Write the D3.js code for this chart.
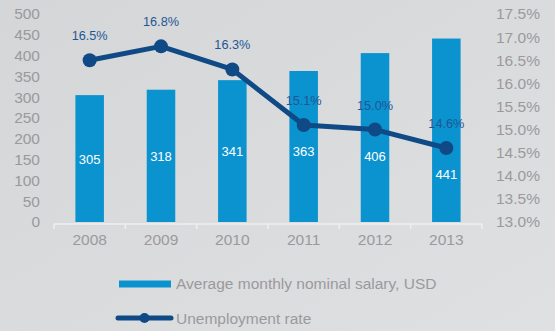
<!DOCTYPE html>
<html>
<head>
<meta charset="utf-8">
<script src="https://cdn.jsdelivr.net/npm/d3@7"></script>
<style>
  html, body { margin: 0; padding: 0; }
  body { width: 555px; height: 331px; overflow: hidden; }
  svg { display: block; font-family: "Liberation Sans", Arial, sans-serif; }
</style>
</head>
<body>
<svg id="chart" width="555" height="331"></svg>
<script>
// Salary and unemployment, 2008–2013
const years = ["2008", "2009", "2010", "2011", "2012", "2013"];
const salary = [305, 318, 341, 363, 406, 441];
const unemployment = [16.5, 16.8, 16.3, 15.1, 15.0, 14.6];
const salaryTicks = [0, 50, 100, 150, 200, 250, 300, 350, 400, 450, 500];
const rateTicks = [13.0, 13.5, 14.0, 14.5, 15.0, 15.5, 16.0, 16.5, 17.0, 17.5];
const legendLabels = ["Average monthly nominal salary, USD", "Unemployment rate"];

const barColor = "#0b93d0";
const lineColor = "#0f4a86";
const textGray = "#9a9a9c";

const svg = d3.select("#chart");

// soft gray backdrop
const defs = svg.append("defs");
const grad = defs.append("linearGradient").attr("id", "bg")
  .attr("x1", "0").attr("y1", "0").attr("x2", "1").attr("y2", "1");
grad.append("stop").attr("offset", "0%").attr("stop-color", "#d5d6d8");
grad.append("stop").attr("offset", "100%").attr("stop-color", "#dfe0e2");
svg.append("rect").attr("width", 555).attr("height", 331).attr("fill", "url(#bg)");

const x = d3.scaleBand().domain(years).range([54, 482]).paddingInner(0.6).paddingOuter(0.3);
const yL = d3.scaleLinear().domain([0, 500]).range([222, 14]);
const yR = d3.scaleLinear().domain([13, 17.5]).range([222, 14]);

// left axis
const leftAxis = svg.append("g").attr("transform", "translate(40,0)")
  .call(d3.axisLeft(yL).tickValues(salaryTicks).tickSize(0).tickPadding(0));
leftAxis.select(".domain").remove();
leftAxis.selectAll("text").attr("fill", textGray).style("font-size", "15.5px");

// right axis
const rightAxis = svg.append("g").attr("transform", "translate(496,0)")
  .call(d3.axisRight(yR).tickValues(rateTicks).tickSize(0).tickPadding(0)
    .tickFormat(d => d.toFixed(1) + "%"));
rightAxis.select(".domain").remove();
rightAxis.selectAll("text").attr("fill", textGray).style("font-size", "15.5px");

// category axis with separators between years
const step = x.step();
const x0 = x.range()[0];
const base = svg.append("g");
base.append("line").attr("x1", x0).attr("x2", x.range()[1]).attr("y1", 224).attr("y2", 224)
  .attr("stroke", "#eeeff0").attr("stroke-width", 1.5);
base.selectAll("line.tick").data(d3.range(years.length + 1)).join("line")
  .attr("class", "tick")
  .attr("x1", i => x0 + i * (x.range()[1] - x0) / years.length)
  .attr("x2", i => x0 + i * (x.range()[1] - x0) / years.length)
  .attr("y1", 224).attr("y2", 229)
  .attr("stroke", "#eeeff0").attr("stroke-width", 1.5);
const bottomAxis = svg.append("g").attr("transform", "translate(0,229)")
  .call(d3.axisBottom(x).tickSize(0).tickPadding(5));
bottomAxis.select(".domain").remove();
bottomAxis.selectAll("text").attr("fill", textGray).style("font-size", "15.5px");

// bars
svg.append("g").selectAll("rect").data(years).join("rect")
  .attr("x", d => x(d))
  .attr("width", x.bandwidth())
  .attr("y", (d, i) => yL(salary[i]))
  .attr("height", (d, i) => yL(0) - yL(salary[i]))
  .attr("fill", barColor);

// unemployment line
const cx = d => x(d) + x.bandwidth() / 2;
const line = d3.line().x((d, i) => cx(years[i])).y(d => yR(d));
svg.append("path").datum(unemployment).attr("d", line)
  .attr("fill", "none").attr("stroke", lineColor).attr("stroke-width", 5)
  .attr("stroke-linejoin", "round");
svg.append("g").selectAll("circle").data(unemployment).join("circle")
  .attr("cx", (d, i) => cx(years[i])).attr("cy", d => yR(d)).attr("r", 7)
  .attr("fill", lineColor);

// salary values inside bars, kept clear of the line
svg.append("g").selectAll("text").data(salary).join("text")
  .attr("x", (d, i) => cx(years[i]))
  .attr("y", (d, i) => {
    const mid = (yL(d) + yL(0)) / 2;
    return Math.max(mid, yR(unemployment[i]) + 26) + 5;
  })
  .attr("text-anchor", "middle").attr("fill", "#ffffff").style("font-size", "13px")
  .text(d => d);

// rate labels above points
svg.append("g").selectAll("text").data(unemployment).join("text")
  .attr("x", (d, i) => cx(years[i]))
  .attr("y", d => yR(d) - 20)
  .attr("text-anchor", "middle").attr("fill", "#1d5794").style("font-size", "12.7px")
  .text(d => d.toFixed(1) + "%");

// legend
const lg = svg.append("g");
lg.append("rect").attr("x", 119).attr("y", 280.5).attr("width", 52).attr("height", 7).attr("fill", barColor);
lg.append("text").attr("x", 176).attr("y", 289).attr("fill", textGray).style("font-size", "15.5px")
  .text(legendLabels[0]);
lg.append("line").attr("x1", 118).attr("x2", 171).attr("y1", 318).attr("y2", 318)
  .attr("stroke", lineColor).attr("stroke-width", 5).attr("stroke-linecap", "round");
lg.append("circle").attr("cx", 144.5).attr("cy", 318).attr("r", 5).attr("fill", lineColor);
lg.append("text").attr("x", 176).attr("y", 324).attr("fill", textGray).style("font-size", "15.5px")
  .text(legendLabels[1]);
</script>
</body>
</html>
